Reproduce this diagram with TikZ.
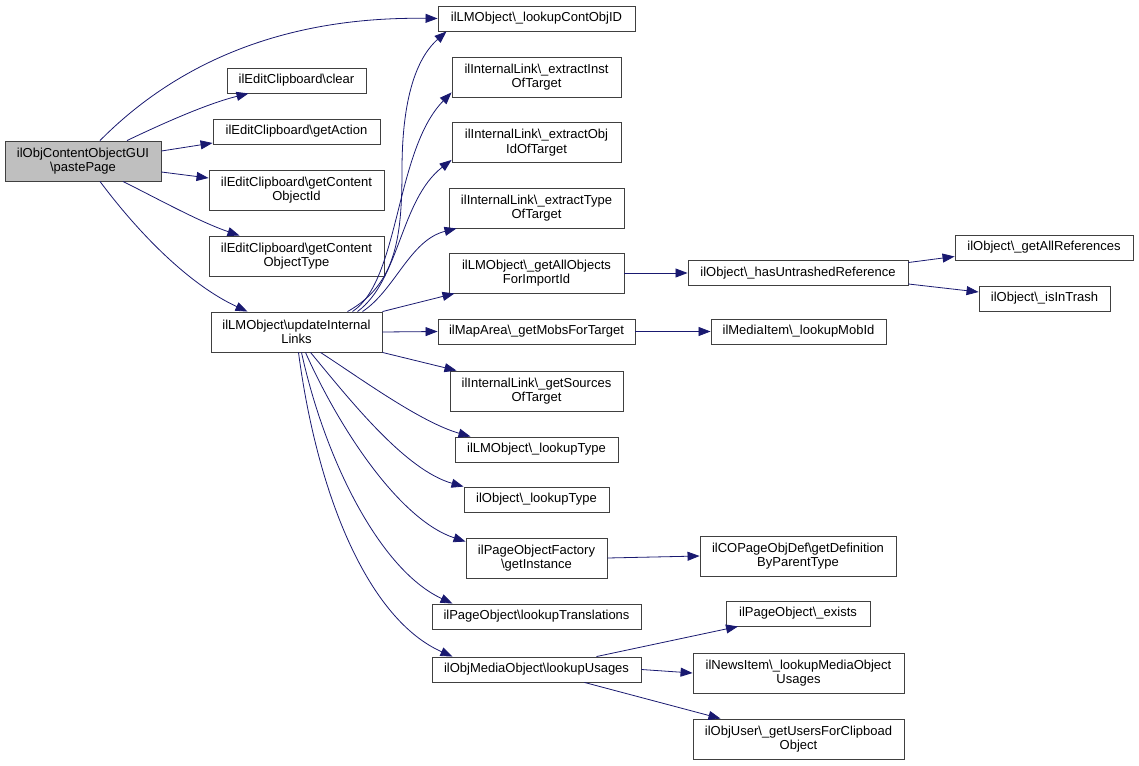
\documentclass[tikz,border=0pt]{standalone}
\usepackage{fontspec}
\setmainfont{Liberation Sans}
\usetikzlibrary{arrows.meta}
\definecolor{edgec}{HTML}{191970}
\definecolor{boxc}{HTML}{404040}
\definecolor{grayfill}{HTML}{BFBFBF}
\newcommand{\bs}{\textbackslash}
\begin{document}
\begin{tikzpicture}[x=1pt,y=-1pt,
  fn/.style={draw=boxc,line width=0.9pt,fill=white,rectangle,inner sep=0pt,align=center,
    font=\fontsize{13}{14.5}\selectfont},
  hi/.style={fn,fill=grayfill},
  call/.style={draw=edgec,line width=0.8pt,-{Triangle[length=12pt,width=9pt]}}]
\useasboundingbox (0,0) rectangle (1139,765);
% column 0
\node[hi,minimum width=156pt,minimum height=40pt] (paste) at (83,161) {ilObjContentObjectGUI\\\bs pastePage};
% column 1
\node[fn,minimum width=139pt,minimum height=25pt] (clear) at (296.5,80.5) {ilEditClipboard\bs clear};
\node[fn,minimum width=167pt,minimum height=25pt] (gact) at (296.5,131.5) {ilEditClipboard\bs getAction};
\node[fn,minimum width=175pt,minimum height=40pt] (gcoid) at (296.5,190) {ilEditClipboard\bs getContent\\ObjectId};
\node[fn,minimum width=175pt,minimum height=40pt] (gcot) at (296.5,256) {ilEditClipboard\bs getContent\\ObjectType};
\node[fn,minimum width=171pt,minimum height=40pt] (upd) at (296.5,332) {ilLMObject\bs updateInternal\\Links};
% column 2
\node[fn,minimum width=197pt,minimum height=25pt] (lcoid) at (536.5,18.5) {ilLMObject\bs\_lookupContObjID};
\node[fn,minimum width=169pt,minimum height=40pt] (einst) at (536.5,77) {ilInternalLink\bs\_extractInst\\OfTarget};
\node[fn,minimum width=169pt,minimum height=40pt] (eobj) at (536.5,142.5) {ilInternalLink\bs\_extractObj\\IdOfTarget};
\node[fn,minimum width=175pt,minimum height=40pt] (etype) at (536.5,208) {ilInternalLink\bs\_extractType\\OfTarget};
\node[fn,minimum width=175pt,minimum height=40pt] (gaofi) at (536.5,273) {ilLMObject\bs\_getAllObjects\\ForImportId};
\node[fn,minimum width=197pt,minimum height=25pt] (gmft) at (536.5,331.5) {ilMapArea\bs\_getMobsForTarget};
\node[fn,minimum width=173pt,minimum height=40pt] (gsot) at (536.5,391) {ilInternalLink\bs\_getSources\\OfTarget};
\node[fn,minimum width=163pt,minimum height=25pt] (lmlt) at (536.5,449.5) {ilLMObject\bs\_lookupType};
\node[fn,minimum width=145pt,minimum height=25pt] (olt) at (536.5,499.5) {ilObject\bs\_lookupType};
\node[fn,minimum width=141pt,minimum height=40pt] (pofgi) at (536.5,558) {ilPageObjectFactory\\\bs getInstance};
\node[fn,minimum width=209pt,minimum height=25pt] (polt) at (536.5,616.5) {ilPageObject\bs lookupTranslations};
\node[fn,minimum width=209pt,minimum height=25pt] (omlu) at (536.5,669.5) {ilObjMediaObject\bs lookupUsages};
% column 3
\node[fn,minimum width=220pt,minimum height=25pt] (hur) at (798,273) {ilObject\bs\_hasUntrashedReference};
\node[fn,minimum width=175pt,minimum height=25pt] (mlm) at (798.5,331.5) {ilMediaItem\bs\_lookupMobId};
\node[fn,minimum width=196pt,minimum height=40pt] (copd) at (798,556) {ilCOPageObjDef\bs getDefinition\\ByParentType};
\node[fn,minimum width=144pt,minimum height=25pt] (poe) at (798,613.5) {ilPageObject\bs\_exists};
\node[fn,minimum width=211pt,minimum height=40pt] (nilm) at (798.5,673) {ilNewsItem\bs\_lookupMediaObject\\Usages};
\node[fn,minimum width=211pt,minimum height=40pt] (oug) at (798.5,739) {ilObjUser\bs\_getUsersForClipboad\\Object};
% column 4
\node[fn,minimum width=178pt,minimum height=25pt] (oga) at (1044,247.5) {ilObject\bs\_getAllReferences};
\node[fn,minimum width=131pt,minimum height=25pt] (oit) at (1044.5,298.5) {ilObject\bs\_isInTrash};
% edges from pastePage
\draw[call] ([xshift=17pt]paste.north) .. controls (160,80) and (260,16) .. (lcoid.west);
\draw[call] ([xshift=44pt]paste.north) .. controls (170,120) and (210,103) .. ([xshift=-48pt]clear.south);
\draw[call] ([yshift=10pt]paste.east) -- ([yshift=-11.5pt]gact.west);
\draw[call] ([yshift=-11pt]paste.east) -- ([yshift=12pt]gcoid.west);
\draw[call] ([xshift=40pt]paste.south) .. controls (160,200) and (200,222) .. ([xshift=-57pt]gcot.north);
\draw[call] ([xshift=17pt]paste.south) .. controls (140,235) and (190,285) .. ([xshift=-49pt]upd.north);
% edges from updateInternalLinks
\draw[call] ([xshift=51pt]upd.north) .. controls (395,285) and (402,240) .. (402,170) .. controls (402,90) and (420,55) .. ([xshift=-90pt]lcoid.south);
\draw[call] ([xshift=56pt]upd.north) .. controls (400,280) and (395,150) .. ([yshift=5pt]einst.south west);
\draw[call] ([xshift=61pt]upd.north) .. controls (400,280) and (400,200) .. ([yshift=3pt]eobj.south west);
\draw[call] ([xshift=66pt]upd.north) .. controls (395,290) and (410,240) .. ([xshift=-80pt]etype.south);
\draw[call] (upd.north east) -- ([xshift=-82pt]gaofi.south);
\draw[call] (upd.east) -- (gmft.west);
\draw[call] (upd.south east) -- ([xshift=-80pt]gsot.north);
\draw[call] ([xshift=24pt]upd.south) .. controls (360,378) and (420,422) .. ([xshift=-66pt]lmlt.north);
\draw[call] ([xshift=14pt]upd.south) .. controls (350,400) and (405,470) .. ([xshift=-73pt]olt.north);
\draw[call] ([xshift=9pt]upd.south) .. controls (340,430) and (400,520) .. ([yshift=-4pt]pofgi.north west);
\draw[call] ([xshift=5pt]upd.south) .. controls (325,460) and (380,570) .. ([xshift=-84pt]polt.north);
\draw[call] ([xshift=2pt]upd.south) .. controls (318,500) and (370,620) .. ([xshift=-84pt]omlu.north);
% further edges
\draw[call] (gaofi.east) -- (hur.west);
\draw[call] ([yshift=10.5pt]hur.east) -- ([yshift=-9pt]oga.west);
\draw[call] ([yshift=-11pt]hur.east) -- ([yshift=6.5pt]oit.west);
\draw[call] (gmft.east) -- (mlm.west);
\draw[call] (pofgi.east) -- (copd.west);
\draw[call] ([xshift=60pt]omlu.north) -- ([xshift=-60pt]poe.south);
\draw[call] (omlu.east) -- (nilm.west);
\draw[call] ([xshift=48pt]omlu.south) -- ([xshift=-78pt]oug.north);
\end{tikzpicture}
\end{document}
